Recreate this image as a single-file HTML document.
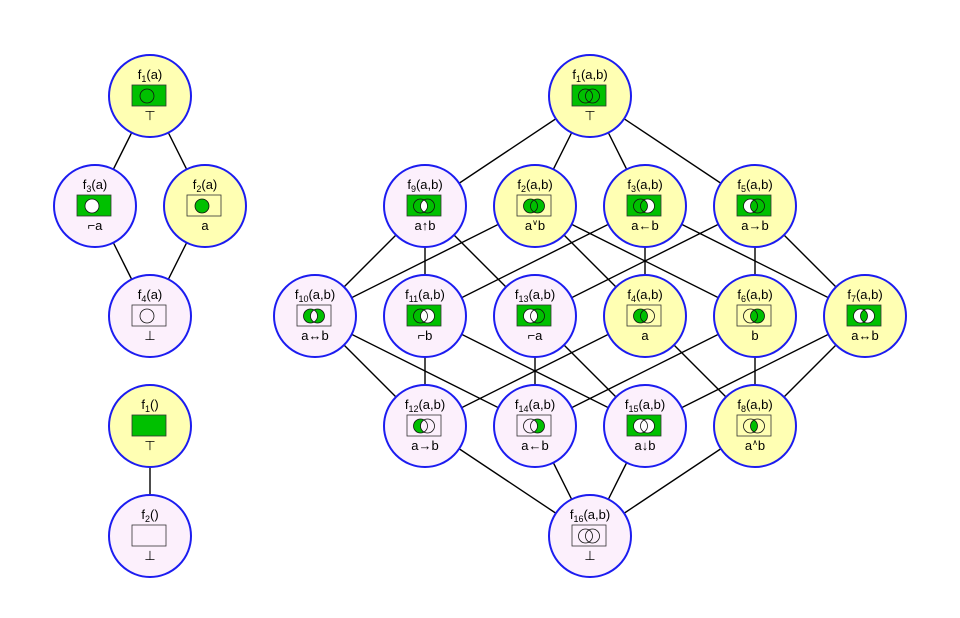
<!DOCTYPE html>
<html><head><meta charset="utf-8"><style>
html,body{margin:0;padding:0;background:#fff;}
svg{display:block}
svg text{font-family:"Liberation Sans","DejaVu Sans",sans-serif;font-size:13px;text-anchor:middle;fill:#000}
.s{font-size:9px}
.n{stroke:#1c1cf0;stroke-width:2}
.y{fill:#ffffb3}.p{fill:#fcf0fc}
.g{fill:#00c000;stroke:#333;stroke-width:0.8}
.w{fill:none;stroke:#333;stroke-width:0.8}
.o{fill:none;stroke:#111;stroke-width:0.8}
.gr{fill:#00c000}.wh{fill:#fff}
line{stroke:#000;stroke-width:1.4}
</style></head><body>
<svg width="960" height="618" viewBox="0 0 960 618" xmlns="http://www.w3.org/2000/svg">
<defs>
<rect id="R" x="-18" y="-11" width="34" height="21"/>
<circle id="A" cx="-4.5" cy="0" r="7"/>
<circle id="B" cx="2.5" cy="0" r="7"/>
<circle id="S" cx="-3" cy="0" r="7"/>
<path id="L" d="M-1,-6.06 A7,7 0 0 1 -1,6.06 A7,7 0 0 1 -1,-6.06 Z"/>
<path id="CA" d="M-1,-6.06 A7,7 0 1 0 -1,6.06 A7,7 0 0 1 -1,-6.06 Z"/>
<path id="CB" d="M-1,-6.06 A7,7 0 1 1 -1,6.06 A7,7 0 0 0 -1,-6.06 Z"/>
<g id="O"><use href="#A"/><use href="#B"/></g>
</defs>

<!-- left edges -->
<line x1="150" y1="96" x2="95" y2="206"/>
<line x1="150" y1="96" x2="205" y2="206"/>
<line x1="95" y1="206" x2="150" y2="316"/>
<line x1="205" y1="206" x2="150" y2="316"/>
<line x1="150" y1="426" x2="150" y2="536"/>

<!-- right edges: top -->
<line x1="590" y1="96" x2="425" y2="206"/>
<line x1="590" y1="96" x2="535" y2="206"/>
<line x1="590" y1="96" x2="645" y2="206"/>
<line x1="590" y1="96" x2="755" y2="206"/>
<!-- row2 -> row3 -->
<line x1="425" y1="206" x2="315" y2="316"/>
<line x1="425" y1="206" x2="425" y2="316"/>
<line x1="425" y1="206" x2="535" y2="316"/>
<line x1="535" y1="206" x2="315" y2="316"/>
<line x1="535" y1="206" x2="645" y2="316"/>
<line x1="535" y1="206" x2="755" y2="316"/>
<line x1="645" y1="206" x2="425" y2="316"/>
<line x1="645" y1="206" x2="645" y2="316"/>
<line x1="645" y1="206" x2="865" y2="316"/>
<line x1="755" y1="206" x2="535" y2="316"/>
<line x1="755" y1="206" x2="755" y2="316"/>
<line x1="755" y1="206" x2="865" y2="316"/>
<!-- row3 -> row4 -->
<line x1="315" y1="316" x2="425" y2="426"/>
<line x1="315" y1="316" x2="535" y2="426"/>
<line x1="425" y1="316" x2="425" y2="426"/>
<line x1="425" y1="316" x2="645" y2="426"/>
<line x1="535" y1="316" x2="535" y2="426"/>
<line x1="535" y1="316" x2="645" y2="426"/>
<line x1="645" y1="316" x2="425" y2="426"/>
<line x1="645" y1="316" x2="755" y2="426"/>
<line x1="755" y1="316" x2="535" y2="426"/>
<line x1="755" y1="316" x2="755" y2="426"/>
<line x1="865" y1="316" x2="645" y2="426"/>
<line x1="865" y1="316" x2="755" y2="426"/>
<!-- row4 -> bottom -->
<line x1="425" y1="426" x2="590" y2="536"/>
<line x1="535" y1="426" x2="590" y2="536"/>
<line x1="645" y1="426" x2="590" y2="536"/>
<line x1="755" y1="426" x2="590" y2="536"/>

<!-- LEFT NODES -->
<g transform="translate(150,96)">
<circle r="41" class="n y"/><use href="#R" class="g"/><use href="#S" class="o"/>
<text y="-17">f<tspan class="s" dy="3">1</tspan><tspan dy="-3">(a)</tspan></text>
<text y="24">⊤</text></g>

<g transform="translate(95,206)">
<circle r="41" class="n p"/><use href="#R" class="g"/><use href="#S" class="wh"/><use href="#S" class="o"/>
<text y="-17">f<tspan class="s" dy="3">3</tspan><tspan dy="-3">(a)</tspan></text>
<text y="24">⌐a</text></g>

<g transform="translate(205,206)">
<circle r="41" class="n y"/><use href="#R" class="w"/><use href="#S" class="gr"/><use href="#S" class="o"/>
<text y="-17">f<tspan class="s" dy="3">2</tspan><tspan dy="-3">(a)</tspan></text>
<text y="24">a</text></g>

<g transform="translate(150,316)">
<circle r="41" class="n p"/><use href="#R" class="w"/><use href="#S" class="o"/>
<text y="-17">f<tspan class="s" dy="3">4</tspan><tspan dy="-3">(a)</tspan></text>
<text y="24">⊥</text></g>

<g transform="translate(150,426)">
<circle r="41" class="n y"/><use href="#R" class="g"/>
<text y="-17">f<tspan class="s" dy="3">1</tspan><tspan dy="-3">()</tspan></text>
<text y="24">⊤</text></g>

<g transform="translate(150,536)">
<circle r="41" class="n p"/><use href="#R" class="w"/>
<text y="-17">f<tspan class="s" dy="3">2</tspan><tspan dy="-3">()</tspan></text>
<text y="24">⊥</text></g>

<!-- RIGHT NODES -->
<g transform="translate(590,96)">
<circle r="41" class="n y"/><use href="#R" class="g"/><use href="#O" class="o"/>
<text y="-17">f<tspan class="s" dy="3">1</tspan><tspan dy="-3">(a,b)</tspan></text>
<text y="24">⊤</text></g>

<g transform="translate(425,206)">
<circle r="41" class="n p"/><use href="#R" class="g"/><use href="#L" class="wh"/><use href="#O" class="o"/>
<text y="-17">f<tspan class="s" dy="3">9</tspan><tspan dy="-3">(a,b)</tspan></text>
<text y="24">a↑b</text></g>

<g transform="translate(535,206)">
<circle r="41" class="n y"/><use href="#R" class="w"/><use href="#A" class="gr"/><use href="#B" class="gr"/><use href="#O" class="o"/>
<text y="-17">f<tspan class="s" dy="3">2</tspan><tspan dy="-3">(a,b)</tspan></text>
<text y="24">a<tspan font-size="8" dy="-5">∨</tspan><tspan dy="5">b</tspan></text></g>

<g transform="translate(645,206)">
<circle r="41" class="n y"/><use href="#R" class="g"/><use href="#CB" class="wh"/><use href="#O" class="o"/>
<text y="-17">f<tspan class="s" dy="3">3</tspan><tspan dy="-3">(a,b)</tspan></text>
<text y="24">a←b</text></g>

<g transform="translate(755,206)">
<circle r="41" class="n y"/><use href="#R" class="g"/><use href="#CA" class="wh"/><use href="#O" class="o"/>
<text y="-17">f<tspan class="s" dy="3">5</tspan><tspan dy="-3">(a,b)</tspan></text>
<text y="24">a→b</text></g>

<g transform="translate(315,316)">
<circle r="41" class="n p"/><use href="#R" class="w"/><use href="#CA" class="gr"/><use href="#CB" class="gr"/><use href="#O" class="o"/>
<text y="-17">f<tspan class="s" dy="3">10</tspan><tspan dy="-3">(a,b)</tspan></text>
<text y="24">a↔b</text></g>

<g transform="translate(425,316)">
<circle r="41" class="n p"/><use href="#R" class="g"/><use href="#B" class="wh"/><use href="#O" class="o"/>
<text y="-17">f<tspan class="s" dy="3">11</tspan><tspan dy="-3">(a,b)</tspan></text>
<text y="24">⌐b</text></g>

<g transform="translate(535,316)">
<circle r="41" class="n p"/><use href="#R" class="g"/><use href="#A" class="wh"/><use href="#O" class="o"/>
<text y="-17">f<tspan class="s" dy="3">13</tspan><tspan dy="-3">(a,b)</tspan></text>
<text y="24">⌐a</text></g>

<g transform="translate(645,316)">
<circle r="41" class="n y"/><use href="#R" class="w"/><use href="#A" class="gr"/><use href="#O" class="o"/>
<text y="-17">f<tspan class="s" dy="3">4</tspan><tspan dy="-3">(a,b)</tspan></text>
<text y="24">a</text></g>

<g transform="translate(755,316)">
<circle r="41" class="n y"/><use href="#R" class="w"/><use href="#B" class="gr"/><use href="#O" class="o"/>
<text y="-17">f<tspan class="s" dy="3">6</tspan><tspan dy="-3">(a,b)</tspan></text>
<text y="24">b</text></g>

<g transform="translate(865,316)">
<circle r="41" class="n y"/><use href="#R" class="g"/><use href="#CA" class="wh"/><use href="#CB" class="wh"/><use href="#O" class="o"/>
<text y="-17">f<tspan class="s" dy="3">7</tspan><tspan dy="-3">(a,b)</tspan></text>
<text y="24">a↔b</text></g>

<g transform="translate(425,426)">
<circle r="41" class="n p"/><use href="#R" class="w"/><use href="#CA" class="gr"/><use href="#O" class="o"/>
<text y="-17">f<tspan class="s" dy="3">12</tspan><tspan dy="-3">(a,b)</tspan></text>
<text y="24">a→b</text></g>

<g transform="translate(535,426)">
<circle r="41" class="n p"/><use href="#R" class="w"/><use href="#CB" class="gr"/><use href="#O" class="o"/>
<text y="-17">f<tspan class="s" dy="3">14</tspan><tspan dy="-3">(a,b)</tspan></text>
<text y="24">a←b</text></g>

<g transform="translate(645,426)">
<circle r="41" class="n p"/><use href="#R" class="g"/><use href="#A" class="wh"/><use href="#B" class="wh"/><use href="#O" class="o"/>
<text y="-17">f<tspan class="s" dy="3">15</tspan><tspan dy="-3">(a,b)</tspan></text>
<text y="24">a↓b</text></g>

<g transform="translate(755,426)">
<circle r="41" class="n y"/><use href="#R" class="w"/><use href="#L" class="gr"/><use href="#O" class="o"/>
<text y="-17">f<tspan class="s" dy="3">8</tspan><tspan dy="-3">(a,b)</tspan></text>
<text y="24">a<tspan font-size="8" dy="-5">∧</tspan><tspan dy="5">b</tspan></text></g>

<g transform="translate(590,536)">
<circle r="41" class="n p"/><use href="#R" class="w"/><use href="#O" class="o"/>
<text y="-17">f<tspan class="s" dy="3">16</tspan><tspan dy="-3">(a,b)</tspan></text>
<text y="24">⊥</text></g>
</svg>
</body></html>
